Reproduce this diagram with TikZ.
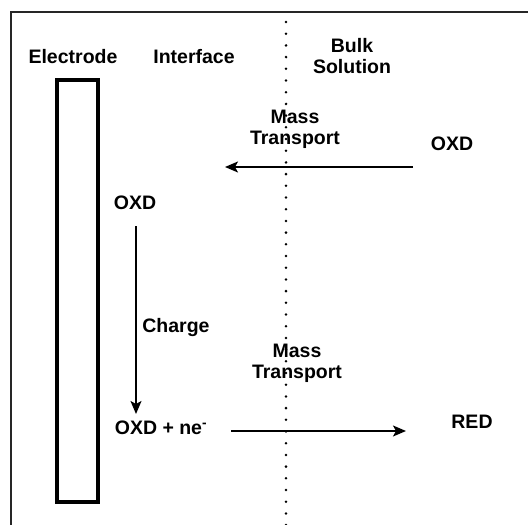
\documentclass[tikz,border=0pt]{standalone}
\usepackage{fontspec}
\setmainfont{Liberation Sans}
\usetikzlibrary{arrows.meta}
\begin{document}
\begin{tikzpicture}[x=1pt,y=-1pt,
  lbl/.style={font=\fontsize{19.5}{22}\selectfont\bfseries, inner sep=0pt, align=center},
  arr/.style={line width=1.5pt, -{Stealth[length=13pt,width=11pt,inset=3pt]}},
  frameline/.style={line width=1.8pt, draw=black!85}]
\useasboundingbox (0,0) rectangle (528,525);
% outer frame (only top and left edges visible)
\coordinate (fbl) at (11,526);
\coordinate (ftl) at (11,12);
\coordinate (ftr) at (529,12);
\draw[frameline] (fbl) -- (ftl) -- (ftr);
% electrode
\node[draw, line width=4.5pt, minimum width=41pt, minimum height=422pt, inner sep=0pt] (electrode) at (77.5,291) {};
% dotted divider
\coordinate (dtop) at (286,22);
\coordinate (dbot) at (286,526);
\draw[line width=2.8pt, line cap=round, dash pattern=on 0pt off 11.7pt] (dtop) -- (dbot);
% headings
\node[lbl] (hElec) at (73,57) {Electrode};
\node[lbl] (hInt) at (194,57) {Interface};
\node[lbl] (hBulk) at (352,56) {Bulk\\[-1pt]Solution};
% upper mass transport
\node[lbl] (mt1) at (295,129.5) {Mass\\[-1pt]Transport};
\node[lbl] (oxdR) at (452,144) {OXD};
\coordinate (a1s) at (413,167);
\coordinate (a1e) at (225,167);
\draw[arr] (a1s) -- (a1e);
% charge
\node[lbl] (oxdL) at (135,203) {OXD};
\coordinate (a2s) at (136,226);
\coordinate (a2e) at (136,414);
\draw[arr] (a2s) -- (a2e);
\node[lbl] (charge) at (176,327) {Charge};
% lower mass transport
\node[lbl] (mt2) at (297,363.5) {Mass\\[-1pt]Transport};
\node[lbl] (oxdne) at (161,428) {OXD + ne\textsuperscript{-}};
\coordinate (a3s) at (231,431);
\coordinate (a3e) at (406,431);
\draw[arr] (a3s) -- (a3e);
\node[lbl] (red) at (472,422) {RED};
\end{tikzpicture}
\end{document}
